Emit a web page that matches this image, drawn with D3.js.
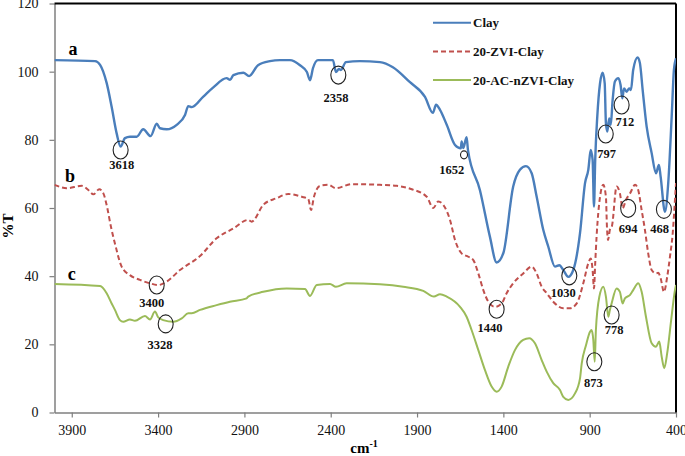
<!DOCTYPE html>
<html>
<head>
<meta charset="utf-8">
<script src="https://cdn.jsdelivr.net/npm/d3@7"></script>
<style>
  body { margin: 0; background: #fff; }
  text { font-family: "Times New Roman", "Liberation Serif", serif; }
</style>
</head>
<body>
<div id="chart"></div>
<script>
// series names, colours in legend order
var seriesNames = ["Clay", "20-ZVI-Clay", "20-AC-nZVI-Clay"];
var curveLetters = ["a", "b", "c"];

// tick values
var xTicks = [3900, 3400, 2900, 2400, 1900, 1400, 900, 400];
var yTicks = [0, 20, 40, 60, 80, 100, 120];

// [wavenumber, %T]
var clayData = [
  [4000,103.4],[3765,103.1],[3736,102.0],[3698,96.7],[3669,89.7],[3640,81.9],[3617,78.0],
  [3592,80.5],[3563,80.9],[3524,80.9],[3486,83.1],[3443,81.1],[3408,84.7],[3389,83.4],
  [3350,83.1],[3292,84.4],[3244,87.3],[3225,89.9],[3205,89.6],[3138,92.7],[3080,95.4],
  [3003,98.1],[2983,97.6],[2964,99.0],[2906,99.7],[2873,98.7],[2821,101.9],[2752,103.1],
  [2694,103.4],[2636,103.4],[2578,101.9],[2538,99.9],[2520,97.5],[2503,101.0],[2474,103.4],
  [2387,103.4],[2370,99.9],[2352,100.8],[2341,100.5],[2312,102.8],[2231,103.1],[2115,102.8],
  [2040,101.3],[1941,96.9],[1854,92.6],[1808,87.9],[1790,90.3],[1767,88.8],[1728,84.4],
  [1680,78.5],[1646,77.5],[1642,79.5],[1632,77.6],[1613,80.8],[1605,77.0],[1536,65.3],
  [1478,51.6],[1439,44.0],[1400,46.8],[1343,66.3],[1304,71.2],[1269,72.3],[1236,70.2],
  [1207,63.3],[1169,53.6],[1140,48.7],[1101,42.8],[1076,43.2],[1053,41.8],[1024,39.8],
  [995,41.8],[956,52.6],[927,67.3],[908,71.2],[894,77.0],[883,74.1],[875,60.4],[868,74.1],
  [856,86.8],[840,96.6],[825,99.7],[813,96.6],[806,84.9],[798,82.4],[787,86.3],[778,84.4],
  [767,91.7],[754,97.1],[734,98.1],[721,96.1],[711,92.2],[701,95.1],[686,94.1],[671,95.1],
  [661,94.6],[648,100.5],[622,104.2],[609,102.5],[593,94.6],[570,83.9],[541,76.1],
  [516,70.2],[499,72.6],[489,69.2],[464,58.9],[445,67.3],[425,86.8],[412,100.5],[400,103.9]
];

var zviData = [
  [4000,66.8],[3929,65.8],[3842,66.5],[3804,65.3],[3775,64.0],[3741,65.5],[3717,64.3],
  [3698,60.9],[3673,54.5],[3650,49.6],[3611,42.8],[3563,40.3],[3505,38.9],[3447,37.9],
  [3399,37.4],[3350,38.4],[3273,41.8],[3157,45.9],[3061,51.1],[2964,54.0],[2878,56.5],
  [2858,56.0],[2791,60.9],[2713,62.9],[2646,64.1],[2568,63.3],[2530,62.6],[2514,59.4],
  [2497,63.3],[2462,66.5],[2414,66.8],[2370,65.8],[2279,67.0],[2115,66.8],[2018,66.5],
  [1931,65.5],[1844,63.3],[1806,60.0],[1777,61.9],[1748,60.9],[1709,56.5],[1680,50.6],
  [1642,46.7],[1603,45.7],[1574,44.7],[1545,40.8],[1516,35.9],[1487,32.5],[1449,31.0],
  [1410,32.0],[1381,35.0],[1343,37.9],[1285,40.8],[1236,42.8],[1207,40.8],[1178,36.9],
  [1149,35.0],[1111,32.5],[1053,30.6],[1014,30.6],[975,32.0],[937,37.9],[908,43.8],
  [894,45.2],[883,41.8],[875,36.4],[868,43.8],[860,51.6],[840,63.3],[821,66.8],[806,63.3],
  [800,54.5],[794,50.6],[783,53.6],[771,54.7],[744,66.3],[725,64.3],[709,59.9],[690,62.4],
  [666,64.3],[637,66.8],[619,65.3],[599,59.4],[580,53.6],[561,46.7],[541,41.8],[516,40.8],
  [503,41.0],[489,39.4],[470,35.4],[451,39.8],[435,45.7],[419,52.6],[406,62.4],[400,67.3]
];

var acData = [
  [4000,37.7],[3736,37.1],[3698,35.0],[3669,32.0],[3650,30.1],[3621,27.1],[3602,26.6],
  [3563,27.3],[3534,26.9],[3476,28.3],[3447,27.3],[3418,29.6],[3399,27.9],[3370,27.1],
  [3312,26.6],[3263,27.6],[3225,29.1],[3205,29.1],[3157,30.1],[3061,31.5],[2984,32.5],
  [2887,33.5],[2878,34.0],[2791,35.4],[2655,36.4],[2549,36.2],[2520,34.2],[2481,37.4],
  [2404,37.7],[2370,36.9],[2308,37.9],[2115,37.6],[1980,36.9],[1864,35.7],[1802,34.0],
  [1767,34.7],[1728,34.0],[1651,31.0],[1613,28.1],[1584,24.2],[1545,18.3],[1507,12.5],
  [1468,7.6],[1439,6.1],[1410,7.6],[1372,13.4],[1333,18.3],[1285,21.3],[1250,21.8],
  [1217,20.3],[1178,15.4],[1149,12.0],[1111,8.6],[1072,6.6],[1053,4.6],[1024,3.7],
  [985,5.6],[956,10.0],[946,14.4],[921,19.8],[898,23.7],[889,24.2],[879,21.3],[871,14.9],
  [864,24.2],[844,34.0],[821,36.9],[806,34.0],[792,28.1],[783,30.1],[773,32.0],[744,36.4],
  [725,35.4],[709,32.0],[696,33.5],[666,34.5],[648,35.9],[619,37.9],[599,35.4],[574,28.1],
  [541,20.3],[516,19.3],[497,20.8],[483,16.4],[468,13.0],[451,17.4],[428,27.1],[406,35.9],
  [400,37.4]
];

// marked bands: label, circle centre [wn, %T], label centre [wn, %T]
var peakLabels = ["3618", "2358", "1652", "797", "712", "694", "468", "3400", "3328", "1440", "1030", "873", "778"];
var peakMarks = [[3617,77.0],[2356,99.0],[1628,75.6],[807,81.7],[715,90.2],[677,59.9],[470,59.6],
                 [3408,37.4],[3356,26.0],[1439,30.3],[1018,40.1],[873,14.9],[773,28.6]];
var peakText = [[3611,72.7],[2370,92.5],[1699,71.4],[802,76.1],[696,85.3],[677,54.0],[495,54.0],
                [3437,32.2],[3389,19.8],[1478,25.0],[1053,35.2],[879,8.9],[759,24.2]];
var letterPos = [[3893,104.9],[3910,67.6],[3900,38.9]];

var colors = ["#4a7ebb", "#c0504d", "#9bbb59"];
var W = 685, H = 456;
var margin = {top: 3.5, right: 9, bottom: 43.5, left: 54.5};

var svg = d3.select("#chart").append("svg")
    .attr("width", W)
    .attr("height", H);

var x = d3.scaleLinear().domain([4000, 400]).range([margin.left, W - margin.right]);
var y = d3.scaleLinear().domain([0, 120]).range([H - margin.bottom, margin.top]);

// clip so nothing runs out of the frame
svg.append("defs").append("clipPath")
    .attr("id", "clip")
    .append("rect")
    .attr("x", margin.left)
    .attr("y", margin.top)
    .attr("width", W - margin.right - margin.left)
    .attr("height", H - margin.bottom - margin.top);

// Axes
var xAxis = svg.append("g")
    .attr("transform", "translate(0," + y(0) + ")")
    .call(d3.axisBottom(x).tickValues(xTicks).tickSize(5).tickSizeOuter(0).tickPadding(8).tickFormat(d3.format("d")));
var yAxis = svg.append("g")
    .attr("transform", "translate(" + x(4000) + ",0)")
    .call(d3.axisLeft(y).tickValues(yTicks).tickSize(5).tickSizeOuter(0).tickPadding(11));

[xAxis, yAxis].forEach(function(a) {
    a.select(".domain").attr("stroke", "#7f7f7f").attr("stroke-width", 1.5);
    a.selectAll(".tick line").attr("stroke", "#7f7f7f").attr("stroke-width", 1.2);
    a.selectAll(".tick text")
        .style("font-family", "'Times New Roman', 'Liberation Serif', serif")
        .style("font-size", "14px")
        .attr("fill", "#111");
});

// frame top and right
svg.append("line")
    .attr("x1", x(4000)).attr("x2", x(400))
    .attr("y1", y(120)).attr("y2", y(120))
    .attr("stroke", "#000").attr("stroke-width", 2);
svg.append("line")
    .attr("x1", x(400)).attr("x2", x(400))
    .attr("y1", y(120)).attr("y2", y(0))
    .attr("stroke", "#000").attr("stroke-width", 2);

var line = d3.line()
    .x(function(d) { return x(d[0]); })
    .y(function(d) { return y(d[1]); })
    .curve(d3.curveMonotoneX);

var plot = svg.append("g").attr("clip-path", "url(#clip)");

var allSeries = [clayData, zviData, acData];
allSeries.forEach(function(s, i) {
    plot.append("path")
        .datum(s)
        .attr("d", line)
        .attr("fill", "none")
        .attr("stroke", colors[i])
        .attr("stroke-width", i == 0 ? 2.4 : 2)
        .attr("stroke-dasharray", i == 1 ? "5,3" : null)
        .attr("stroke-linejoin", "round");
});

// circles round the bands
svg.selectAll(".mark")
    .data(peakMarks)
    .enter()
    .append("ellipse")
    .attr("cx", function(d) { return x(d[0]); })
    .attr("cy", function(d) { return y(d[1]); })
    .attr("rx", function(d, i) { return peakLabels[i] == "1652" ? 3.5 : 7.5; })
    .attr("ry", function(d, i) { return peakLabels[i] == "1652" ? 4 : 9; })
    .attr("fill", "none")
    .attr("stroke", "#222")
    .attr("stroke-width", 1.1);

svg.selectAll(".peak")
    .data(peakText)
    .enter()
    .append("text")
    .attr("x", function(d) { return x(d[0]); })
    .attr("y", function(d) { return y(d[1]); })
    .attr("dy", "0.35em")
    .attr("text-anchor", "middle")
    .style("font-size", "12.5px")
    .style("font-weight", "bold")
    .attr("fill", "#111")
    .text(function(d, i) { return peakLabels[i]; });

// a, b, c
svg.selectAll(".letter")
    .data(letterPos)
    .enter()
    .append("text")
    .attr("x", function(d) { return x(d[0]); })
    .attr("y", function(d) { return y(d[1]); })
    .attr("text-anchor", "middle")
    .style("font-size", "18px")
    .style("font-weight", "bold")
    .text(function(d, i) { return curveLetters[i]; });

// Legend
var legend = svg.append("g").attr("transform", "translate(433,22.7)");
seriesNames.forEach(function(name, i) {
    var g = legend.append("g").attr("transform", "translate(0," + (i * 28.7) + ")");
    g.append("line")
        .attr("x1", 0).attr("x2", 38)
        .attr("stroke", colors[i])
        .attr("stroke-width", 2)
        .attr("stroke-dasharray", i == 1 ? "5,3" : null);
    g.append("text")
        .attr("x", 40)
        .attr("dy", "0.35em")
        .style("font-size", "13px")
        .style("font-weight", "bold")
        .attr("fill", "#111")
        .text(name);
});

// Axis titles
svg.append("text")
    .attr("transform", "translate(13," + 226 + ") rotate(-90)")
    .attr("text-anchor", "middle")
    .style("font-size", "15px")
    .style("font-weight", "bold")
    .text("%T");

var xt = svg.append("text")
    .attr("x", 364)
    .attr("y", 453)
    .attr("text-anchor", "middle")
    .style("font-size", "15px")
    .style("font-weight", "bold");
xt.append("tspan").text("cm");
xt.append("tspan").attr("dy", "-6").style("font-size", "10px").text("-1");
</script>
</body>
</html>
